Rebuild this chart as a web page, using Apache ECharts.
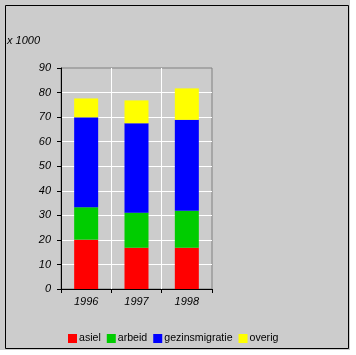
<!DOCTYPE html>
<html><head><meta charset="utf-8">
<script src="https://cdn.jsdelivr.net/npm/echarts@6/dist/echarts.min.js"></script>
<style>html,body{margin:0;padding:0;background:#fff}#c{width:356px;height:355px}</style>
</head><body><div id="c"></div>
<script>
var categories = ['1996', '1997', '1998'];
var asiel = [20.1, 16.8, 16.8];
var arbeid = [13.2, 14.3, 15.1];
var gezinsmigratie = [36.6, 36.4, 37.0];
var overig = [7.7, 9.3, 12.8];
var seriesNames = ['asiel', 'arbeid', 'gezinsmigratie', 'overig'];
var seriesColors = ['#ff0000', '#00cc00', '#0000ff', '#ffff00'];
var seriesData = [asiel, arbeid, gezinsmigratie, overig];

var font = 'Liberation Sans, Arial, sans-serif';
var chart = echarts.init(document.getElementById('c'), null, {renderer: 'canvas'});
chart.setOption({
  animation: false,
  backgroundColor: '#ffffff',
  graphic: [
    {type: 'rect', shape: {x: 0, y: 0, width: 350, height: 350}, style: {fill: '#cccccc'}, z: -10},
    {type: 'rect', shape: {x: 5.5, y: 5.5, width: 343, height: 343}, style: {fill: null, stroke: '#000', lineWidth: 1}, z: -9},
    {type: 'text', left: 7, top: 35, style: {text: 'x 1000', font: 'italic 11px ' + font, fill: '#000'}}
  ],
  grid: {left: 61, top: 68, right: 144, bottom: 66, show: true, backgroundColor: 'transparent', borderColor: '#808080', borderWidth: 1},
  legend: {
    left: 63, top: 328, itemWidth: 9, itemHeight: 9, itemGap: 6, icon: 'rect',
    textStyle: {fontFamily: font, fontSize: 10.6, color: '#000', padding: [0, 0, 0, -3]},
    data: seriesNames
  },
  xAxis: {
    type: 'category', data: categories, boundaryGap: true,
    axisLine: {lineStyle: {color: '#000', width: 1}},
    axisTick: {show: true, length: 4, lineStyle: {color: '#000'}},
    axisLabel: {fontFamily: font, fontSize: 11, fontStyle: 'italic', color: '#000', margin: 7},
    splitLine: {show: true, showMinLine: false, showMaxLine: false, lineStyle: {color: '#ffffff', width: 1}}
  },
  yAxis: {
    type: 'value', min: 0, max: 90, interval: 10,
    axisLine: {show: true, lineStyle: {color: '#000', width: 1}},
    axisTick: {show: true, length: 4, lineStyle: {color: '#000'}},
    axisLabel: {fontFamily: font, fontSize: 11, fontStyle: 'italic', color: '#000', margin: 10},
    splitLine: {show: true, showMinLine: false, showMaxLine: false, lineStyle: {color: '#ffffff', width: 1}}
  },
  series: seriesNames.map(function (n, i) {
    return {name: n, type: 'bar', stack: 'total', barWidth: 24, data: seriesData[i],
      itemStyle: {color: seriesColors[i]}};
  })
});
</script></body></html>
